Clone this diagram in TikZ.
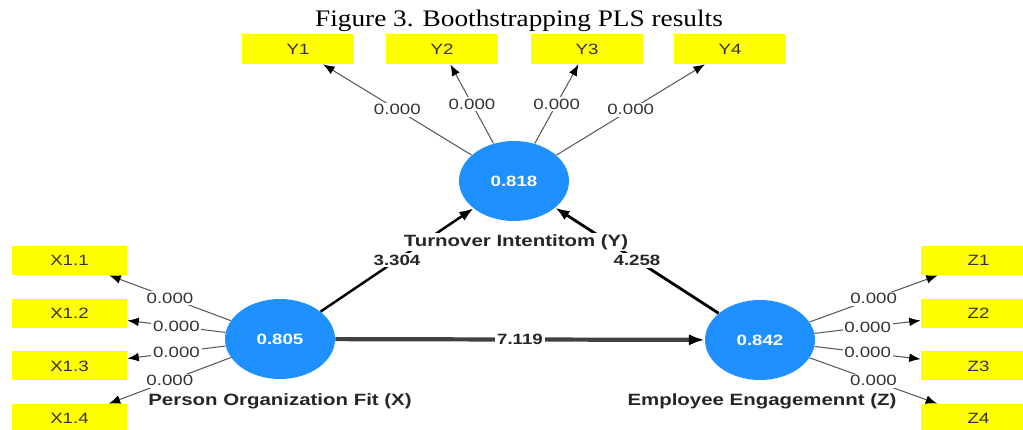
\documentclass[tikz,border=0pt]{standalone}
\usepackage{fontspec}
\setmainfont{Liberation Serif}
\newfontfamily\titlefont[FakeStretch=1.15]{Liberation Serif}
\newfontfamily\plsfont[FakeStretch=1.25]{Liberation Sans}
\usepackage{color}
\usepackage{tikz}
\usetikzlibrary{shapes.geometric,arrows.meta}
\definecolor{plsblue}{RGB}{30,144,255}
\definecolor{plsyellow}{RGB}{255,255,0}

\begin{document}
\begin{tikzpicture}[scale = 1,
  latent/.style = {ellipse, fill = plsblue, minimum width = 2.2cm, minimum height = 1.6cm, inner sep = 0pt, text = white, font = \plsfont\fontsize{8.5}{10}\selectfont\bfseries},
  indicator/.style = {rectangle, fill = plsyellow, minimum width = 2.3cm, minimum height = 0.58cm, inner sep = 0pt, text = black!80, font = \plsfont\fontsize{8.5}{10}\selectfont},
  latname/.style = {fill = white, inner sep = 1pt, font = \plsfont\fontsize{9.3}{11}\selectfont\bfseries, text = black!85},
  loading/.style = {draw = black!65, line width = 0.6pt, -{Latex[length = 6.5pt, width = 5pt, color = black]}},
  inner/.style = {draw = black, -{Latex[length = 8pt, width = 6pt]}},
  pval/.style = {fill = white, inner sep = 1pt, font = \plsfont\fontsize{8.5}{10}\selectfont, text = black!80},
  tval/.style = {fill = white, inner sep = 1pt, font = \plsfont\fontsize{8.5}{10}\selectfont\bfseries, text = black!85}]
\useasboundingbox (0,0) rectangle (20.46,8.6);
\node[anchor = base] (title) at (10.38,8.06) {\titlefont\fontsize{13.5}{16}\selectfont Figure 3. Boothstrapping PLS results};
\draw (10.28,4.98) node[latent](Y){0.818}
    (5.6,1.82) node[latent](X){0.805}
    (15.2,1.8) node[latent](Z){0.842}
    (5.96,7.62) node[indicator, minimum width = 2.24cm, minimum height = 0.6cm](y1){Y1}
    (8.84,7.62) node[indicator, minimum width = 2.24cm, minimum height = 0.6cm](y2){Y2}
    (11.74,7.62) node[indicator, minimum width = 2.24cm, minimum height = 0.6cm](y3){Y3}
    (14.6,7.62) node[indicator, minimum width = 2.24cm, minimum height = 0.6cm](y4){Y4}
    (1.39,3.39) node[indicator](x1){X1.1}
    (1.39,2.33) node[indicator](x2){X1.2}
    (1.39,1.28) node[indicator](x3){X1.3}
    (1.39,0.23) node[indicator](x4){X1.4}
    (19.57,3.39) node[indicator](z1){Z1}
    (19.57,2.33) node[indicator](z2){Z2}
    (19.57,1.28) node[indicator](z3){Z3}
    (19.57,0.23) node[indicator](z4){Z4};
    % outer loadings
    \draw [loading] (Y) -- (y1) node[midway,pval] {0.000};
    \draw [loading] (Y) -- (y2) node[midway,pval] {0.000};
    \draw [loading] (Y) -- (y3) node[midway,pval] {0.000};
    \draw [loading] (Y) -- (y4) node[midway,pval] {0.000};
    \draw [loading] (X) -- (x1) node[midway,pval] {0.000};
    \draw [loading] (X) -- (x2) node[midway,pval] {0.000};
    \draw [loading] (X) -- (x3) node[midway,pval] {0.000};
    \draw [loading] (X) -- (x4) node[midway,pval] {0.000};
    \draw [loading] (Z) -- (z1) node[midway,pval] {0.000};
    \draw [loading] (Z) -- (z2) node[midway,pval] {0.000};
    \draw [loading] (Z) -- (z3) node[midway,pval] {0.000};
    \draw [loading] (Z) -- (z4) node[midway,pval] {0.000};
    % inner model
    \draw [inner, line width = 1.4pt] (X) -- (Y) node[midway,tval] {3.304};
    \draw [inner, line width = 1.6pt] (Z) -- (Y) node[midway,tval] {4.258};
    \draw [inner, line width = 2.4pt, draw = black!75, -{Latex[length = 9pt, width = 6.5pt, color = black]}] (X) -- (Z) node[midway,tval] {7.119};
\node[latname] (ylab) at (10.32,3.76) {Turnover Intentitom (Y)};
\node[latname] (xlab) at (5.6,0.58) {Person Organization Fit (X)};
\node[latname] (zlab) at (15.24,0.58) {Employee Engagemennt (Z)};
\end{tikzpicture}
\end{document}
